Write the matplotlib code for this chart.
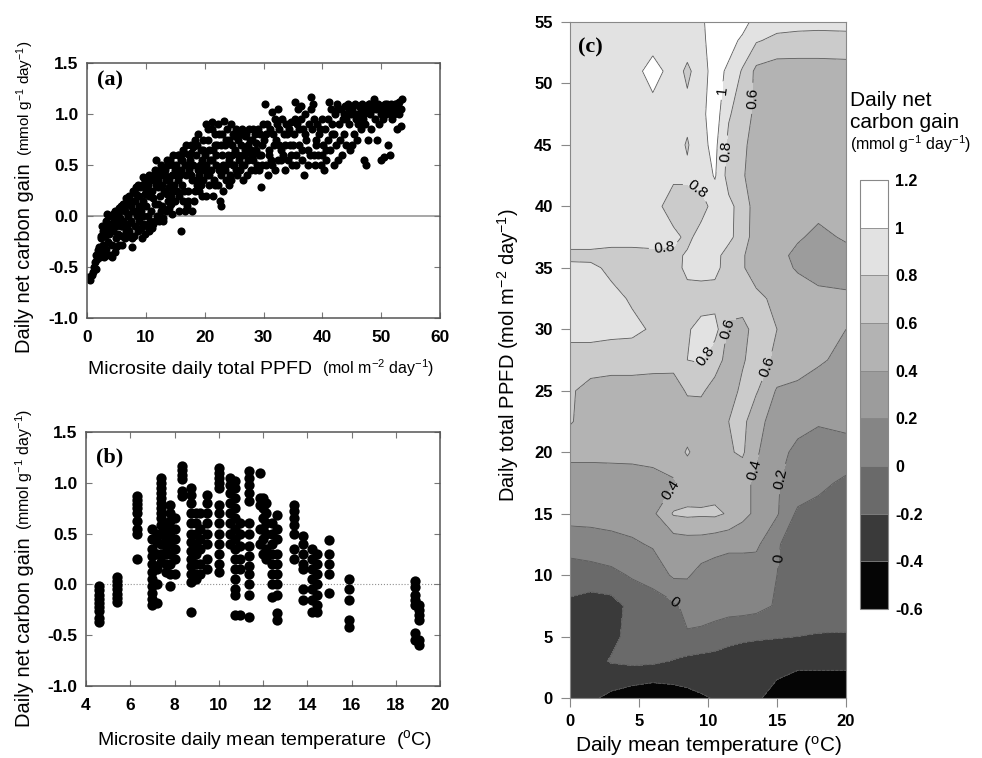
import numpy as np
import matplotlib
matplotlib.use('Agg')
import matplotlib.pyplot as plt

plt.rcParams['font.family'] = ['Liberation Sans', 'DejaVu Sans']
plt.rcParams['mathtext.fontset'] = 'custom'
plt.rcParams['mathtext.rm'] = 'Liberation Sans'
plt.rcParams['mathtext.it'] = 'Liberation Sans:italic'
plt.rcParams['mathtext.bf'] = 'Liberation Sans:bold'

# ---- panel (a): gain vs microsite PPFD ----
a_pts = [
    (0.2,-0.6),(0.5,-0.63),(0.8,-0.58),(1.0,-0.55),(1.2,-0.5),(1.4,-0.45),(1.5,-0.38),(1.7,-0.42),(1.9,-0.33),(1.6,-0.52),
    (2.1,-0.3),(2.2,-0.4),(2.4,-0.22),(2.5,-0.35),(2.7,-0.15),(2.8,-0.28),(2.9,-0.4),(2.6,-0.1),
    (3.1,-0.2),(3.2,-0.05),(3.3,-0.32),(3.5,-0.12),(3.6,-0.25),(3.8,0.0),(3.9,-0.38),(3.7,-0.18),
    (4.1,-0.08),(4.2,-0.28),(4.4,0.02),(4.5,-0.15),(4.7,-0.35),(4.8,0.05),(4.9,-0.22),(4.6,-0.05),
    (5.1,0.0),(5.2,-0.18),(5.4,0.08),(5.5,-0.28),(5.7,-0.1),(5.8,0.1),(5.9,-0.2),(5.3,-0.05),
    (6.1,0.12),(6.2,-0.05),(6.4,-0.22),(6.5,0.05),(6.7,0.18),(6.8,-0.12),(6.9,0.0),(6.3,0.08),
    (7.1,0.2),(7.2,-0.15),(7.4,0.1),(7.5,-0.05),(7.7,-0.3),(7.8,0.25),(7.9,0.05),(7.3,-0.2),
    (8.1,0.15),(8.2,-0.1),(8.4,0.28),(8.5,0.0),(8.7,-0.15),(8.8,0.2),(8.9,0.1),(8.6,0.3),
    (9.1,0.05),(9.3,-0.22),(9.4,0.3),(9.5,0.15),(9.7,-0.08),(9.8,0.22),(9.9,0.35),(9.6,0.0),
    (10.1,0.1),(10.2,-0.1),(10.4,0.3),(10.5,0.2),(10.7,-0.05),(10.8,0.35),(10.9,0.05),(10.6,-0.15),
    (11.1,0.25),(11.2,-0.08),(11.4,0.4),(11.5,0.12),(11.7,0.3),(11.8,0.55),(11.9,0.0),(11.3,0.18),
    (12.1,0.35),(12.2,-0.05),(12.4,0.2),(12.5,0.45),(12.7,0.1),(12.8,0.3),(12.9,-0.02),(12.3,0.4),
    (13.1,0.25),(13.2,0.45),(13.4,0.05),(13.5,0.35),(13.7,0.15),(13.8,0.5),(13.9,0.28),(13.3,0.4),
    (14.1,0.55),(14.2,0.2),(14.4,0.4),(14.5,0.02),(14.7,0.6),(14.8,0.3),(14.9,0.45),(14.3,0.12),
    (15.1,0.5),(15.3,0.25),(15.4,0.6),(15.6,0.05),(15.8,0.4),(16.0,-0.15),(15.9,0.55),(15.5,0.35),
    (16.1,0.3),(16.3,0.65),(16.4,0.15),(16.6,0.5),(16.8,0.7),(16.9,0.4),(16.7,0.05),(16.2,0.55),
    (17.1,0.25),(17.3,0.6),(17.4,0.45),(17.6,0.7),(17.8,0.05),(17.9,0.35),(17.5,0.55),(17.2,0.15),
    (18.1,0.5),(18.3,0.75),(18.4,0.25),(18.6,0.6),(18.8,0.45),(18.9,0.8),(18.5,0.35),
    (19.1,0.4),(19.3,0.65),(19.4,0.3),(19.6,0.55),(19.8,0.75),(19.9,0.45),(19.5,0.2),
    (20.1,0.6),(20.3,0.9),(20.4,0.4),(20.6,0.75),(20.8,0.3),(20.9,0.55),(20.5,0.85),
    (21.1,0.45),(21.3,0.92),(21.4,0.65),(21.6,0.35),(21.8,0.8),(21.9,0.5),(21.5,0.2),
    (22.1,0.7),(22.3,0.9),(22.4,0.45),(22.6,0.15),(22.8,0.1),(22.9,0.6),(22.5,0.8),(22.2,0.3),
    (23.1,0.5),(23.3,0.93),(23.4,0.7),(23.6,0.35),(23.8,0.85),(23.9,0.6),(23.5,0.45),
    (24.1,0.75),(24.3,0.4),(24.4,0.9),(24.6,0.6),(24.8,0.5),(24.9,0.8),(24.5,0.35),
    (25.1,0.65),(25.3,0.85),(25.4,0.45),(25.6,0.75),(25.8,0.55),(25.9,0.82),(25.5,0.4),
    (26.1,0.7),(26.3,0.5),(26.4,0.85),(26.6,0.35),(26.8,0.65),(26.9,0.78),(26.5,0.6),
    (27.1,0.8),(27.3,0.55),(27.4,0.7),(27.6,0.85),(27.8,0.45),(27.9,0.65),
    (28.1,0.75),(28.3,0.55),(28.5,0.8),(28.7,0.65),(28.9,0.5),
    (29.1,0.85),(29.3,0.45),(29.5,0.28),(29.7,0.7),(29.9,0.9),(29.6,0.6),
    (30.1,0.75),(30.2,1.1),(30.4,0.5),(30.6,0.9),(30.8,0.4),(30.9,0.65),
    (31.1,0.85),(31.3,0.55),(31.5,1.02),(31.7,0.7),(31.9,0.95),(31.4,0.5),
    (32.1,0.75),(32.3,0.9),(32.5,0.55),(32.7,0.85),(32.9,0.65),(32.4,1.05),
    (33.1,0.95),(33.3,0.6),(33.5,0.8),(33.7,0.45),(33.9,0.9),
    (34.1,0.55),(34.3,0.85),(34.5,0.7),(34.7,0.92),(34.9,0.5),
    (35.1,0.8),(35.3,1.12),(35.5,0.6),(35.7,0.9),(35.9,1.05),(35.6,0.5),
    (36.1,0.7),(36.3,1.08),(36.5,0.55),(36.7,0.85),(36.9,0.4),(36.4,0.95),
    (37.1,1.0),(37.3,0.75),(37.5,0.5),(37.7,0.9),(37.9,0.6),
    (38.1,1.17),(38.3,0.85),(38.5,0.95),(38.7,0.5),(38.9,0.75),(38.4,1.1),
    (39.1,0.9),(39.3,0.6),(39.5,0.8),(39.7,0.5),(39.9,0.95),
    (40.1,0.7),(40.3,0.45),(40.5,0.85),(40.7,0.55),(40.9,0.75),
    (41.1,1.12),(41.3,0.65),(41.5,1.05),(41.7,0.8),(41.9,0.5),
    (42.1,1.0),(42.3,0.7),(42.5,1.1),(42.7,0.55),(42.9,0.9),
    (43.1,1.05),(43.3,0.6),(43.5,0.95),(43.7,0.8),(43.9,1.08),
    (44.1,0.7),(44.3,1.1),(44.5,0.9),(44.7,0.65),(44.9,1.0),
    (45.1,1.05),(45.3,0.8),(45.5,1.1),(45.7,0.95),(45.9,0.75),
    (46.1,1.0),(46.3,1.08),(46.5,0.85),(46.7,1.1),(46.9,0.95),
    (47.1,0.55),(47.2,0.9),(47.4,1.05),(47.5,0.5),(47.7,0.75),(47.9,1.1),
    (48.1,1.0),(48.3,0.85),(48.5,1.1),(48.7,1.15),(48.9,0.95),
    (49.1,1.05),(49.3,0.75),(49.5,1.1),(49.7,0.9),(49.9,0.55),
    (50.1,1.08),(50.3,0.95),(50.5,0.58),(50.7,1.1),(50.9,1.0),
    (51.1,0.7),(51.3,1.05),(51.5,0.6),(51.7,1.1),(51.9,0.95),
    (52.1,1.0),(52.3,1.1),(52.5,1.05),(52.7,0.85),(52.9,1.08),
    (53.1,1.12),(53.3,0.88),(53.5,1.15),(53.4,1.05),
]
# second pass over the dense part of the cloud
a_pts_dense = [
    (2.3,-0.2),(2.9,-0.1),(3.4,-0.38),(3.4,0.02),(4.0,-0.15),(4.3,-0.4),(4.9,-0.1),(5.0,-0.3),
    (5.6,-0.02),(5.6,0.05),(6.0,-0.28),(6.0,-0.1),(6.6,-0.15),(6.6,0.12),(7.0,-0.08),(7.0,0.02),
    (7.6,0.15),(7.6,-0.22),(8.0,0.05),(8.0,-0.2),(8.3,0.22),(8.8,-0.05),(9.0,0.28),(9.2,-0.12),
    (9.5,0.38),(9.9,-0.18),(10.0,0.25),(10.3,0.0),(10.5,0.4),(10.9,0.2),(11.0,-0.12),(11.5,0.45),
    (11.6,-0.05),(12.0,0.12),(12.0,0.28),(12.6,0.05),(12.6,0.5),(13.0,0.4),(13.0,-0.05),(13.6,0.22),
    (13.6,0.55),(14.0,0.08),(14.0,0.35),(14.6,0.5),(14.6,0.25),(15.0,0.15),(15.2,0.4),(15.7,0.6),
    (15.7,0.2),(16.0,0.45),(16.5,0.25),(16.5,0.62),(17.0,0.5),(17.0,0.1),(17.7,0.4),(17.7,0.62),
    (18.2,0.15),(18.0,0.68),(18.7,0.3),(18.7,0.7),(19.2,0.5),(19.0,0.25),(19.7,0.35),(19.7,0.65),
    (20.2,0.5),(20.2,0.2),(20.7,0.65),(20.7,0.4),(21.2,0.55),(21.2,0.85),(21.7,0.7),(21.7,0.3),
    (22.0,0.6),(22.7,0.4),(22.7,0.7),(23.0,0.8),(23.2,0.25),(23.7,0.5),(23.7,0.75),(24.2,0.55),
    (24.2,0.3),(24.7,0.7),(25.0,0.5),(25.2,0.78),(25.7,0.6),(26.0,0.45),(26.2,0.8),(26.7,0.5),
    (27.0,0.62),(27.2,0.4),(27.7,0.75),(28.0,0.6),(28.2,0.85),(28.6,0.45),(28.8,0.72),(29.2,0.6),
    (29.4,0.8),(29.8,0.5),(30.5,0.8),(31.0,0.6),(31.6,0.8),(32.0,0.45),(32.6,0.7),(33.0,0.55),
    (33.6,0.7),(34.0,0.8),(34.6,0.6),(35.0,0.7),(35.4,0.95),(36.0,0.85),(36.6,0.65),(37.0,0.8),
    (37.6,0.65),(38.0,1.05),(38.6,0.6),(39.0,0.7),(39.6,0.85),(40.0,0.6),(40.6,0.65),(41.0,0.95),
    (41.6,0.9),(42.0,0.8),(42.6,1.05),(43.0,0.75),(43.6,1.0),(44.0,0.95),(44.6,1.05),(45.0,0.7),
    (45.6,1.0),(46.0,0.9),(46.6,1.05),(47.0,1.0),(47.6,1.08),(48.0,1.1),(48.6,1.05),(49.0,1.1),
    (49.6,1.05),(50.0,1.0),(50.6,1.05),(51.0,1.1),(51.6,1.0),(52.0,1.05),(52.6,1.1),(53.0,1.0),
]

# ---- panel (b): gain vs microsite temperature, one column per site ----
b_temps = [4.6, 5.4, 6.3, 7.0, 7.2, 7.4, 7.6, 7.8, 8.0, 8.35, 8.75, 8.95, 9.15, 9.45,
           10.0, 10.5, 10.75, 10.95, 11.35, 11.85, 12.0, 12.15, 12.4, 12.65,
           13.4, 13.8, 14.2, 14.45, 15.0, 15.9, 18.85, 19.05]
b_gains = [
    [-0.02, -0.06, -0.1, -0.14, -0.18, -0.22, -0.26, -0.33, -0.37],
    [0.07, 0.03, -0.01, -0.05, -0.09, -0.13, -0.17],
    [0.87, 0.83, 0.79, 0.75, 0.7, 0.62, 0.55, 0.5, 0.25],
    [0.55, 0.45, 0.35, 0.28, 0.2, 0.12, 0.05, -0.02, -0.08, -0.14, -0.2],
    [0.5, 0.42, 0.3, 0.15, 0.0, -0.18],
    [1.05, 1.0, 0.95, 0.9, 0.85, 0.8, 0.75, 0.7, 0.65, 0.58, 0.5, 0.4, 0.3, 0.22],
    [0.6, 0.52, 0.45, 0.38, 0.3, 0.2, 0.12],
    [0.78, 0.7, 0.62, 0.55, 0.48, 0.4, 0.3, 0.2, 0.1, -0.02],
    [0.65, 0.55, 0.45, 0.35, 0.25, 0.1],
    [1.17, 1.13, 1.08, 1.04, 0.92, 0.87],
    [0.95, 0.88, 0.8, 0.7, 0.6, 0.5, 0.42, 0.33, 0.25, 0.18, 0.1, 0.02, -0.27],
    [0.7, 0.6, 0.5, 0.4, 0.3, 0.2, 0.1, 0.05],
    [0.7, 0.55, 0.45, 0.35, 0.2, 0.1],
    [0.88, 0.8, 0.7, 0.6, 0.5, 0.4, 0.25, 0.15],
    [1.15, 1.1, 1.05, 1.0, 0.95, 0.78, 0.7, 0.6, 0.5, 0.4, 0.3, 0.2, 0.12],
    [1.05, 0.98, 0.9, 0.8, 0.7, 0.6, 0.5, 0.4],
    [1.02, 0.95, 0.85, 0.75, 0.65, 0.55, 0.45, 0.35, 0.25, 0.15, 0.05, -0.05, -0.1, -0.3],
    [0.6, 0.5, 0.38, 0.25, 0.15, -0.3],
    [1.12, 1.05, 0.98, 0.9, 0.82, 0.6, 0.5, 0.38, 0.28, 0.18, 0.1, 0.0, -0.1, -0.32],
    [1.1, 0.85, 0.78, 0.55, 0.4],
    [0.85, 0.75, 0.65, 0.55, 0.45, 0.3],
    [0.8, 0.7, 0.6, 0.5, 0.35, 0.25],
    [0.6, 0.5, 0.4, 0.3, 0.2, 0.1, 0.0, -0.12],
    [0.68, 0.55, 0.45, 0.3, 0.2, 0.1, 0.0, -0.1, -0.28, -0.35],
    [0.78, 0.72, 0.65, 0.58, 0.5, 0.35, 0.25],
    [0.48, 0.4, 0.3, 0.2, 0.15, -0.05, -0.15],
    [0.35, 0.25, 0.15, 0.05, -0.05, -0.15, -0.27],
    [0.3, 0.2, 0.1, 0.0, -0.1, -0.2, -0.27],
    [0.44, 0.3, 0.2, 0.1, -0.08],
    [0.05, -0.05, -0.15, -0.35, -0.42],
    [0.03, -0.03, -0.1, -0.15, -0.2, -0.48, -0.55],
    [-0.2, -0.25, -0.3, -0.35, -0.55, -0.6],
]

# ---- panel (c): gain surface over temperature x PPFD (values read per node) ----
temp_grid = [0, 1.5, 3, 4.5, 6, 7.5, 8.5, 9.5, 10.5, 11.5, 12.5, 13.5, 15, 16.5, 18, 20]
ppfd_grid = [0, 1.5, 3, 5, 7.5, 10, 12.5, 15, 17.5, 20, 22.5, 25, 27.5, 30, 32.5,
             35, 36, 37.5, 40, 42.5, 45, 47.5, 51, 53.5, 55]
gain_grid = [
    [-0.30,-0.38,-0.43,-0.48,-0.50,-0.48,-0.45,-0.42,-0.39,-0.35,-0.36,-0.38,-0.45,-0.50,-0.50,-0.50],
    [-0.28,-0.33,-0.35,-0.36,-0.38,-0.37,-0.36,-0.34,-0.32,-0.32,-0.34,-0.36,-0.40,-0.48,-0.48,-0.48],
    [-0.30,-0.28,-0.18,-0.15,-0.16,-0.21,-0.25,-0.27,-0.28,-0.29,-0.29,-0.30,-0.31,-0.32,-0.32,-0.32],
    [-0.26,-0.30,-0.26,-0.12,-0.10,-0.06,-0.02,-0.04,-0.08,-0.14,-0.17,-0.18,-0.19,-0.20,-0.21,-0.21],
    [-0.24,-0.30,-0.28,-0.14,-0.10,-0.04, 0.06, 0.08, 0.08, 0.08, 0.08, 0.06,-0.02,-0.10,-0.12,-0.14],
    [-0.10,-0.08,-0.05, 0.02, 0.08, 0.23, 0.22, 0.14, 0.12, 0.10, 0.10, 0.08, 0.00,-0.10,-0.12,-0.13],
    [ 0.08, 0.10, 0.13, 0.17, 0.22, 0.28, 0.30, 0.30, 0.26, 0.24, 0.24, 0.24, 0.02,-0.10,-0.12,-0.12],
    [ 0.28, 0.28, 0.29, 0.30, 0.36, 0.62, 0.64, 0.63, 0.64, 0.58, 0.46, 0.36, 0.22,-0.04,-0.07,-0.08],
    [ 0.30, 0.30, 0.31, 0.32, 0.34, 0.38, 0.46, 0.48, 0.50, 0.50, 0.46, 0.36, 0.21, 0.14, 0.05,-0.04],
    [ 0.45, 0.45, 0.45, 0.45, 0.46, 0.50, 0.62, 0.52, 0.54, 0.58, 0.63, 0.42, 0.28, 0.14, 0.10, 0.12],
    [ 0.62, 0.50, 0.48, 0.47, 0.46, 0.47, 0.50, 0.52, 0.54, 0.60, 0.66, 0.46, 0.32, 0.28, 0.22, 0.25],
    [ 0.63, 0.52, 0.50, 0.50, 0.50, 0.52, 0.62, 0.62, 0.55, 0.52, 0.64, 0.62, 0.38, 0.35, 0.33, 0.32],
    [ 0.72, 0.72, 0.70, 0.70, 0.68, 0.66, 0.80, 0.82, 0.66, 0.55, 0.58, 0.68, 0.56, 0.50, 0.42, 0.36],
    [ 0.86, 0.86, 0.85, 0.84, 0.78, 0.70, 0.78, 0.86, 0.88, 0.56, 0.55, 0.66, 0.60, 0.50, 0.48, 0.40],
    [ 0.86, 0.86, 0.85, 0.78, 0.70, 0.70, 0.72, 0.72, 0.72, 0.70, 0.68, 0.65, 0.55, 0.50, 0.45, 0.42],
    [ 0.85, 0.84, 0.76, 0.70, 0.70, 0.72, 0.85, 0.86, 0.85, 0.72, 0.62, 0.50, 0.47, 0.38, 0.33, 0.35],
    [ 0.75, 0.75, 0.72, 0.72, 0.74, 0.76, 0.82, 0.86, 0.86, 0.72, 0.62, 0.50, 0.45, 0.36, 0.32, 0.35],
    [ 0.90, 0.90, 0.90, 0.90, 0.90, 0.85, 0.76, 0.86, 0.90, 0.85, 0.70, 0.50, 0.47, 0.42, 0.36, 0.42],
    [ 0.90, 0.90, 0.90, 0.90, 0.88, 0.70, 0.70, 0.74, 0.86, 0.85, 0.72, 0.50, 0.48, 0.47, 0.45, 0.48],
    [ 0.90, 0.90, 0.90, 0.90, 0.90, 0.84, 0.84, 0.86, 1.02, 0.72, 0.62, 0.50, 0.48, 0.48, 0.48, 0.48],
    [ 0.90, 0.90, 0.90, 0.90, 0.90, 0.90, 0.78, 0.95, 1.05, 0.75, 0.65, 0.50, 0.48, 0.48, 0.48, 0.50],
    [ 0.90, 0.90, 0.90, 0.90, 0.90, 0.90, 0.86, 0.95, 1.10, 0.82, 0.70, 0.55, 0.50, 0.50, 0.50, 0.50],
    [ 0.90, 0.90, 0.90, 0.90, 1.10, 0.90, 0.76, 0.90, 1.10, 0.95, 0.78, 0.55, 0.50, 0.50, 0.50, 0.50],
    [ 0.90, 0.90, 0.90, 0.90, 0.90, 0.90, 0.90, 0.95, 1.10, 1.10, 0.95, 0.82, 0.75, 0.74, 0.74, 0.76],
    [ 0.90, 0.90, 0.90, 0.90, 0.90, 0.90, 0.90, 0.95, 1.15, 1.15, 1.10, 0.90, 0.88, 0.86, 0.85, 0.84],
]
levels = [-0.6, -0.4, -0.2, 0, 0.2, 0.4, 0.6, 0.8, 1.0, 1.2]
band_colors = ['#050505', '#3a3a3a', '#6a6a6a', '#858585', '#9c9c9c',
               '#b3b3b3', '#cbcbcb', '#e2e2e2', '#ffffff']
level_labels = ['-0.6', '-0.4', '-0.2', '0', '0.2', '0.4', '0.6', '0.8', '1', '1.2']


W, H = 982, 758
fig = plt.figure(figsize=(W / 100, H / 100), dpi=100)


def box(x0, y0, x1, y1):
    # pixel box (top-left origin) -> figure fraction rect
    return [x0 / W, 1 - y1 / H, (x1 - x0) / W, (y1 - y0) / H]


def label_two(xb, yb, main, unit, s1, s2, vertical=False, gap=7):
    # main text followed by a smaller unit text on the same baseline
    r = fig.canvas.get_renderer()
    rot = 90 if vertical else 0
    t = fig.text(xb / W, 1 - yb / H, main, fontsize=s1, rotation=rot,
                 rotation_mode='anchor', ha='left', va='baseline')
    bb = t.get_window_extent(r)
    if vertical:
        fig.text(xb / W, (bb.y1 + gap) / (H), unit, fontsize=s2, rotation=90,
                 rotation_mode='anchor', ha='left', va='baseline')
    else:
        fig.text((bb.x1 + gap) / W, 1 - yb / H, unit, fontsize=s2,
                 ha='left', va='baseline')


def scatter_style(ax):
    for s in ax.spines.values():
        s.set_color('#555555')
        s.set_linewidth(1.1)
    ax.tick_params(direction='in', top=True, right=True, length=4,
                   color='#777777', labelsize=12.5)
    ax.tick_params(axis='x', pad=9)
    ax.tick_params(axis='y', pad=6)


unit_g = '(mmol g$^{-1}$ day$^{-1}$)'
gain_ticks = [-1, -0.5, 0, 0.5, 1, 1.5]
gain_ticklabels = ['-1.0', '-0.5', '0.0', '0.5', '1.0', '1.5']

# (a)
ax_a = fig.add_axes(box(87, 63, 440, 318))
ax_a.axhline(0, color='#a0a0a0', lw=1.3, zorder=1)
pts = a_pts + a_pts_dense
ax_a.scatter([p[0] for p in pts], [p[1] for p in pts], s=34, c='black',
             linewidths=0, zorder=2)
ax_a.set_xlim(0, 60)
ax_a.set_ylim(-1, 1.5)
scatter_style(ax_a)
ax_a.set_xticks(range(0, 61, 10), [str(v) for v in range(0, 61, 10)], fontweight='bold')
ax_a.set_yticks(gain_ticks, gain_ticklabels, fontweight='bold')
ax_a.text(0.028, 0.93, '(a)', transform=ax_a.transAxes, fontsize=16,
          fontweight='bold', family='Liberation Serif', va='center')

# (b)
ax_b = fig.add_axes(box(86, 432, 440, 686))
ax_b.axhline(0, color='#909090', lw=0.8, ls=':', zorder=1)
bx, by = [], []
for t, col in zip(b_temps, b_gains):
    bx += [t] * len(col)
    by += col
ax_b.scatter(bx, by, s=55, c='black', linewidths=0, zorder=2)
ax_b.set_xlim(4, 20)
ax_b.set_ylim(-1, 1.5)
scatter_style(ax_b)
ax_b.set_xticks(range(4, 21, 2), [str(v) for v in range(4, 21, 2)], fontweight='bold')
ax_b.set_yticks(gain_ticks, gain_ticklabels, fontweight='bold')
ax_b.text(0.028, 0.9, '(b)', transform=ax_b.transAxes, fontsize=16,
          fontweight='bold', family='Liberation Serif', va='center')

# (c)
ax_c = fig.add_axes(box(570, 22, 846, 698))
Z = np.array(gain_grid)
cf = ax_c.contourf(temp_grid, ppfd_grid, Z, levels=levels, colors=band_colors)
label_spots = {
    1.0: [(11.2, 49.4)],
    0.8: [(11.4, 44.5), (9.4, 41.8), (6.9, 35.5), (9.3, 28.2)],
    0.6: [(13.0, 48.8), (11.7, 30.0), (14.5, 26.9)],
    0.4: [(7.1, 17.1), (13.3, 18.6)],
    0.2: [(15.1, 17.9)],
    0: [(14.6, 11.4), (7.2, 7.3)],
}
# one line set per level so each label snaps to its own level
for lev in levels[1:-1]:
    cl = ax_c.contour(temp_grid, ppfd_grid, Z, levels=[lev], colors='#5a5a5a',
                      linewidths=0.6)
    if lev in label_spots:
        ax_c.clabel(cl, manual=label_spots[lev], fmt='%g', fontsize=11,
                    inline=True, colors='black')
ax_c.set_xlim(0, 20)
ax_c.set_ylim(0, 55)
for s in ax_c.spines.values():
    s.set_color('#888888')
ax_c.tick_params(direction='out', length=6.5, color='#888888', labelsize=12)
ax_c.tick_params(axis='x', pad=5)
ax_c.tick_params(axis='y', pad=6)
ax_c.set_xticks(range(0, 21, 5), [str(v) for v in range(0, 21, 5)], fontweight='bold')
ax_c.set_yticks(range(0, 56, 5), [str(v) for v in range(0, 56, 5)], fontweight='bold')
ax_c.text(0.03, 0.963, '(c)', transform=ax_c.transAxes, fontsize=16,
          fontweight='bold', family='Liberation Serif', va='center')

# colour bar
cax = fig.add_axes(box(860, 180, 888, 609))
cb = fig.colorbar(cf, cax=cax, ticks=levels, drawedges=True)
cb.ax.set_yticklabels(level_labels, fontweight='bold', fontsize=11.5)
cb.ax.tick_params(length=0, pad=5)
cb.outline.set_edgecolor('#888888')
cb.outline.set_linewidth(0.8)
cb.dividers.set_color('#888888')
cb.dividers.set_linewidth(0.6)

# axis titles
label_two(30, 353, 'Daily net carbon gain', unit_g, 14.5, 11, vertical=True)
label_two(30, 727, 'Daily net carbon gain', unit_g, 14.5, 11.5, vertical=True)
label_two(88, 374, 'Microsite daily total PPFD', '(mol m$^{-2}$ day$^{-1}$)', 14, 11.5, gap=10)
fig.text(265 / W, 1 - 745 / H, 'Microsite daily mean temperature  ($^{\\mathrm{o}}$C)',
         fontsize=14, ha='center', va='baseline')
fig.text(508 / W, 1 - 355 / H, 'Daily total PPFD (mol m$^{-2}$ day$^{-1}$)',
         fontsize=14.5, rotation=90, ha='center', va='center')
fig.text(709 / W, 1 - 752 / H, 'Daily mean temperature ($^{\\mathrm{o}}$C)',
         fontsize=15, ha='center', va='baseline')
fig.text(850 / W, 1 - 106 / H, 'Daily net', fontsize=15, ha='left', va='baseline')
fig.text(850 / W, 1 - 128 / H, 'carbon gain', fontsize=15, ha='left', va='baseline')
fig.text(850 / W, 1 - 150 / H, unit_g, fontsize=11.5, ha='left', va='baseline')

fig.savefig('out.png', dpi=100)
